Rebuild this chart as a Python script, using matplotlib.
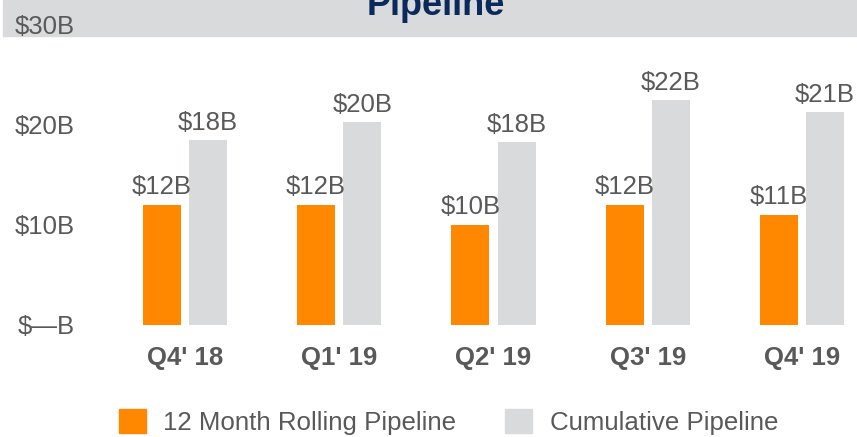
import matplotlib.pyplot as plt
from matplotlib.patches import Rectangle, Patch

plt.rcParams['font.family'] = ['Liberation Sans', 'DejaVu Sans']

# Data
quarters = ["Q4' 18", "Q1' 19", "Q2' 19", "Q3' 19", "Q4' 19"]
rolling = [12, 12, 10, 12, 11]
rolling_labels = ["$12B", "$12B", "$10B", "$12B", "$11B"]
cumulative = [18.4, 20.2, 18.2, 22.4, 21.2]
cumulative_labels = ["$18B", "$20B", "$18B", "$22B", "$21B"]
yticks = [0, 10, 20, 30]
ytick_labels = ["$\u2014B", "$10B", "$20B", "$30B"]

orange = "#FF8800"
grey = "#D9DADB"
text_grey = "#595959"

fig = plt.figure(figsize=(8.57, 4.37), dpi=100)

# grey title band
fig.patches.append(Rectangle((3 / 857, 1 - 36 / 437), 1, 36 / 437,
                             transform=fig.transFigure, color=grey, zorder=-1))
fig.text(436 / 857, 1 - 15 / 437, "Pipeline", ha="center", va="baseline",
         fontsize=26, fontweight="bold", color="#0B2A5B")

ax = fig.add_axes([90 / 857, 112 / 437, 767 / 857, 301 / 437])
ax.patch.set_alpha(0)

x = list(range(len(quarters)))
w = 0.247
off = 0.15
b1 = ax.bar([i - off for i in x], rolling, width=w, color=orange)
b2 = ax.bar([i + off for i in x], cumulative, width=w, color=grey)

for rect, lab in zip(b1, rolling_labels):
    ax.annotate(lab, (rect.get_x() + rect.get_width() / 2, rect.get_height()),
                xytext=(0, 4), textcoords="offset points", ha="center",
                va="bottom", fontsize=18.5, color=text_grey)
for rect, lab in zip(b2, cumulative_labels):
    ax.annotate(lab, (rect.get_x() + rect.get_width() / 2, rect.get_height()),
                xytext=(0, 4), textcoords="offset points", ha="center",
                va="bottom", fontsize=18.5, color=text_grey)

ax.set_xlim(-95 / 154.25, 4 + 55 / 154.25)
ax.set_ylim(0, 30)
ax.set_xticks(x)
ax.set_xticklabels(quarters, fontsize=18.5, fontweight="bold", color=text_grey)
ax.set_yticks(yticks)
ax.set_yticklabels(ytick_labels, fontsize=18.5, color=text_grey)
ax.tick_params(axis="both", length=0)
ax.tick_params(axis="x", pad=15)
ax.tick_params(axis="y", pad=11)
for s in ax.spines.values():
    s.set_visible(False)

handles = [Patch(color=orange, label="12 Month Rolling Pipeline"),
           Patch(color=grey, label="Cumulative Pipeline")]
fig.legend(handles=handles, loc="center", bbox_to_anchor=(448.5 / 857, 15 / 437),
           ncol=2, frameon=False, fontsize=18.6, labelcolor=text_grey,
           handlelength=1.04, handleheight=1.04, handletextpad=0.68,
           columnspacing=1.9)

plt.savefig("out.png", dpi=100)
